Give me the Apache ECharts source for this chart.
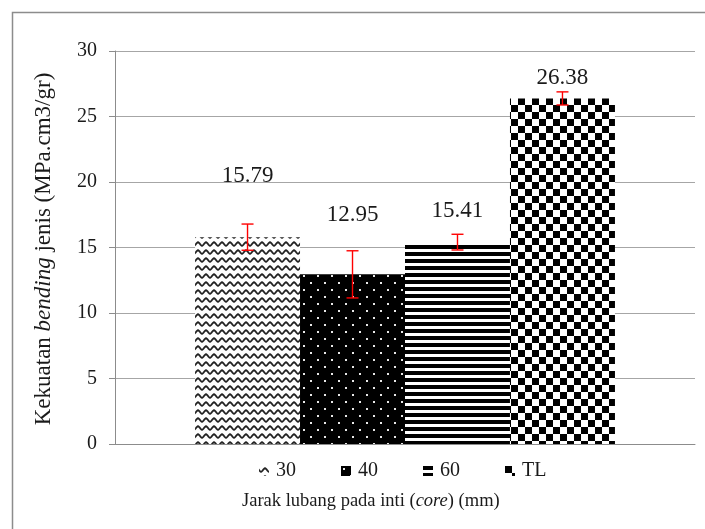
<!DOCTYPE html>
<html>
<head>
<meta charset="utf-8">
<script src="https://cdn.jsdelivr.net/npm/echarts@6/dist/echarts.min.js"></script>
<style>
  html, body { margin: 0; padding: 0; background: #fff; }
  #chart { width: 705px; height: 529px; }
</style>
</head>
<body>
<div id="chart"></div>
<script>
// Hole spacing groups and their specific bending strength
const categories = ['30', '40', '60', 'TL'];
const strength = [15.79, 12.95, 15.41, 26.38];
const strengthError = [1.0, 1.8, 0.6, 0.5];
const yMin = 0, yMax = 30, yStep = 5;

// Extra lift of each value label above its bar (px)
const labelLift = [50, 48, 20, 9];

const FONT = '"Liberation Serif", "Times New Roman", serif';
const TEXT = '#1a1a1a';
const BAR_GAP_CAT = 0.276;

function tile(w, h, draw) {
  const c = document.createElement('canvas');
  c.width = w; c.height = h;
  const ctx = c.getContext('2d');
  draw(ctx, w, h);
  return c;
}

// Fill patterns for the four bars
const patterns = [
  // wavy lines
  tile(8, 8, (ctx, w, h) => {
    ctx.fillStyle = '#fff'; ctx.fillRect(0, 0, w, h);
    ctx.strokeStyle = '#222'; ctx.lineWidth = 1.8;
    ctx.beginPath();
    for (let x = -1; x <= w + 1; x += 0.5) {
      const y = 4 + 1.7 * Math.sin((x / w) * Math.PI * 2);
      if (x === -1) ctx.moveTo(x, y); else ctx.lineTo(x, y);
    }
    ctx.stroke();
  }),
  // black with small white dots
  tile(14, 14, (ctx, w, h) => {
    ctx.fillStyle = '#000'; ctx.fillRect(0, 0, w, h);
    ctx.fillStyle = '#e8e8e8';
    ctx.fillRect(2, 2, 2, 2);
    ctx.fillRect(9, 9, 2, 2);
  }),
  // horizontal stripes
  tile(8, 7, (ctx, w, h) => {
    ctx.fillStyle = '#fff'; ctx.fillRect(0, 0, w, h);
    ctx.fillStyle = '#000'; ctx.fillRect(0, 0, w, 4);
  }),
  // checkerboard
  tile(14, 14, (ctx, w, h) => {
    ctx.fillStyle = '#fff'; ctx.fillRect(0, 0, w, h);
    ctx.fillStyle = '#000';
    ctx.fillRect(0, 0, 7, 7);
    ctx.fillRect(7, 7, 7, 7);
  })
];

const barSeries = categories.map((name, i) => ({
  type: 'bar',
  name: name,
  data: [strength[i]],
  barGap: '0%',
  barCategoryGap: (BAR_GAP_CAT * 100) + '%',
  itemStyle: { color: { image: patterns[i], repeat: 'repeat' } },
  label: {
    show: true,
    position: 'top',
    distance: labelLift[i],
    formatter: (p) => p.value.toFixed(2),
    fontFamily: FONT,
    fontSize: 23,
    color: TEXT
  },
  z: 2
}));

const errorSeries = {
  type: 'custom',
  name: 'error',
  data: categories.map((c, i) => [0, strength[i], strengthError[i], i]),
  encode: { x: 0, y: 1 },
  z: 5,
  silent: true,
  renderItem: function (params, api) {
    const v = api.value(1), e = api.value(2), i = api.value(3);
    const center = api.coord([0, v]);
    const band = api.size([1, 0])[0];
    const barW = band * (1 - BAR_GAP_CAT) / categories.length;
    const cx = center[0] + (i - (categories.length - 1) / 2) * barW;
    const yTop = api.coord([0, v + e])[1];
    const yBot = api.coord([0, v - e])[1];
    const cap = 6;
    const style = { stroke: '#ff0000', lineWidth: 1.4 };
    return {
      type: 'group',
      children: [
        { type: 'line', shape: { x1: cx, y1: yTop, x2: cx, y2: yBot }, style },
        { type: 'line', shape: { x1: cx - cap, y1: yTop, x2: cx + cap, y2: yTop }, style },
        { type: 'line', shape: { x1: cx - cap, y1: yBot, x2: cx + cap, y2: yBot }, style }
      ]
    };
  }
};

const chart = echarts.init(document.getElementById('chart'), null, { renderer: 'canvas' });
chart.setOption({
  animation: false,
  backgroundColor: '#fff',
  grid: { left: 115, right: 10, top: 51, bottom: 85, containLabel: false },
  xAxis: {
    type: 'category',
    data: [''],
    axisLine: { show: true, lineStyle: { color: '#8c8c8c', width: 1 } },
    axisTick: { show: false },
    axisLabel: { show: false },
    splitLine: { show: false }
  },
  yAxis: {
    type: 'value',
    min: yMin,
    max: yMax,
    interval: yStep,
    axisLine: { show: true, lineStyle: { color: '#8c8c8c', width: 1 } },
    axisTick: { show: true, length: 6, lineStyle: { color: '#8c8c8c' } },
    axisLabel: { fontFamily: FONT, fontSize: 20, color: TEXT, margin: 18 },
    splitLine: { show: true, lineStyle: { color: '#a6a6a6', width: 1 } }
  },
  legend: {
    data: categories,
    left: 259,
    top: 461,
    padding: 0,
    itemWidth: 10,
    itemHeight: 10,
    itemGap: 45,
    icon: 'rect',
    textStyle: { fontFamily: FONT, fontSize: 20, color: TEXT, padding: [0, 0, 0, 2] }
  },
  graphic: [
    {
      type: 'rect',
      shape: { x: 12.5, y: 12.5, width: 800, height: 600 },
      style: { fill: 'none', stroke: '#8c8c8c', lineWidth: 1.5 },
      silent: true
    },
    {
      type: 'text',
      x: 242,
      y: 501,
      style: {
        text: '{n|Jarak lubang pada inti (}{i|core}{n|) (mm)}',
        verticalAlign: 'middle',
        rich: {
          n: { fontFamily: FONT, fontSize: 18.5, fill: TEXT },
          i: { fontFamily: FONT, fontSize: 18.5, fontStyle: 'italic', fill: TEXT }
        }
      }
    },
    {
      type: 'text',
      x: 44,
      y: 249,
      rotation: Math.PI / 2,
      style: {
        text: '{n|Kekuatan }{i|bending}{n| jenis (MPa.cm3/gr)}',
        align: 'center',
        verticalAlign: 'middle',
        rich: {
          n: { fontFamily: FONT, fontSize: 23, fill: TEXT },
          i: { fontFamily: FONT, fontSize: 23, fontStyle: 'italic', fill: TEXT }
        }
      }
    }
  ],
  series: [...barSeries, errorSeries]
});
</script>
</body>
</html>
